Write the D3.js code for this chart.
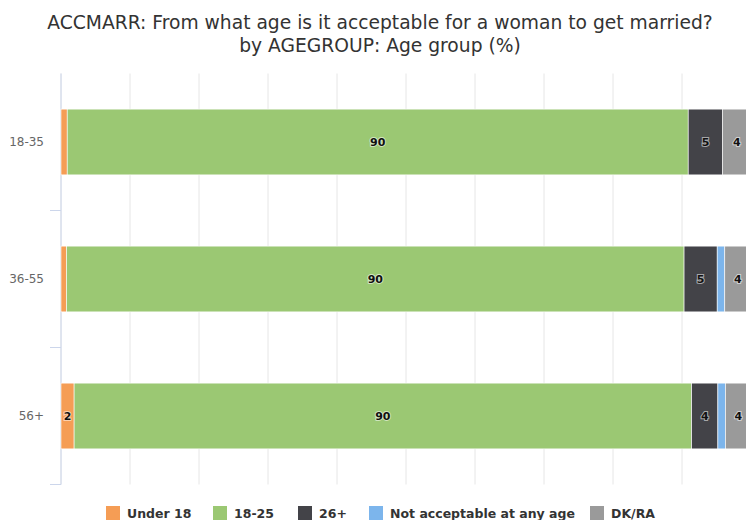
<!DOCTYPE html>
<html>
<head>
<meta charset="utf-8">
<script src="https://cdn.jsdelivr.net/npm/d3@7"></script>
<style>
  html, body { margin: 0; padding: 0; background: #fff; }
  svg { display: block; }
</style>
</head>
<body>
<svg id="chart" width="746" height="520"></svg>
<script>
// Survey answers by age group, percent of respondents
const titleLines = ["ACCMARR: From what age is it acceptable for a woman to get married?", "by AGEGROUP: Age group (%)"];
const categories = ["18-35", "36-55", "56+"];
const seriesNames = ["Under 18", "18-25", "26+", "Not acceptable at any age", "DK/RA"];
const seriesColors = ["#f59d55", "#9bc873", "#434348", "#7cb5ec", "#9a9a9a"];
const under18 = [0.9, 0.8, 1.9];
const age18to25 = [90.0, 89.5, 89.5];
const age26plus = [5.0, 4.8, 3.8];
const notAcceptable = [0.0, 1.1, 1.1];
const dkra = [4.1, 3.8, 3.7];
const xTicks = [0, 10, 20, 30, 40, 50, 60, 70, 80, 90, 100];

const seriesValues = [under18, age18to25, age26plus, notAcceptable, dkra];

const svg = d3.select("#chart");
const plot = { left: 61, top: 73.5, bottom: 484.5 };

const x = d3.scaleLinear().domain([0, 100]).range([plot.left, plot.left + 690]);
const y = d3.scaleBand().domain(categories).range([plot.top, plot.bottom])
  .paddingInner(0.52).paddingOuter(0.26);

// Title
const title = svg.append("text")
  .attr("x", 380).attr("y", 29)
  .attr("text-anchor", "middle")
  .style("font-family", "'DejaVu Sans', sans-serif")
  .style("font-size", "18.7px")
  .style("fill", "#333");
titleLines.forEach((t, i) => {
  title.append("tspan").attr("x", 380).attr("dy", i === 0 ? 0 : 23).text(t);
});

// Vertical grid lines
svg.append("g").selectAll("line").data(xTicks).join("line")
  .attr("x1", d => x(d)).attr("x2", d => x(d))
  .attr("y1", plot.top).attr("y2", plot.bottom)
  .attr("stroke", "#e6e6e6").attr("stroke-width", 1);

// Category axis
const yAxis = d3.axisLeft(y).tickSize(0).tickPadding(17);
const yg = svg.append("g").attr("transform", `translate(${plot.left},0)`).call(yAxis);
yg.select(".domain").remove();
yg.selectAll("text")
  .style("font-family", "'DejaVu Sans', sans-serif")
  .style("font-size", "12px")
  .style("fill", "#666");
svg.append("line")
  .attr("x1", plot.left).attr("x2", plot.left)
  .attr("y1", plot.top).attr("y2", plot.bottom)
  .attr("stroke", "#ccd6eb");
// Tick marks between categories
const boundaries = [
  y(categories[1]) - y.step() * y.paddingInner() / 2,
  y(categories[2]) - y.step() * y.paddingInner() / 2,
  plot.bottom
];
svg.append("g").selectAll("line").data(boundaries).join("line")
  .attr("x1", plot.left - 11).attr("x2", plot.left)
  .attr("y1", d => d).attr("y2", d => d)
  .attr("stroke", "#ccd6eb");

// Stacked bars
const stacked = categories.map((c, i) => {
  let acc = 0;
  return seriesValues.map((vals, s) => {
    const v = vals[i];
    const seg = { cat: c, s, v, x0: acc, x1: acc + v };
    acc += v;
    return seg;
  });
}).flat();

svg.append("g").selectAll("rect").data(stacked.filter(d => d.v > 0)).join("rect")
  .attr("x", d => x(d.x0))
  .attr("y", d => y(d.cat))
  .attr("width", d => x(d.x1) - x(d.x0))
  .attr("height", y.bandwidth())
  .attr("fill", d => seriesColors[d.s])
  .attr("stroke", "#fff").attr("stroke-width", 0.6);

// Value labels (shown for segments of 2% and above)
svg.append("g").selectAll("text")
  .data(stacked.filter(d => Math.round(d.v) >= 2)).join("text")
  .attr("x", d => (x(d.x0) + x(d.x1)) / 2)
  .attr("y", d => y(d.cat) + y.bandwidth() / 2 + 4)
  .attr("text-anchor", "middle")
  .style("font-family", "'DejaVu Sans', sans-serif")
  .style("font-size", "11px")
  .style("font-weight", "bold")
  .style("fill", "#111")
  .style("paint-order", "stroke")
  .style("stroke", "rgba(255,255,255,0.55)")
  .style("stroke-width", "2px")
  .text(d => Math.round(d.v));

// Legend
const legendX = [106, 213, 298, 369, 590];
const legend = svg.append("g").selectAll("g").data(seriesNames).join("g")
  .attr("transform", (d, i) => `translate(${legendX[i]},506)`);
legend.append("rect").attr("width", 14).attr("height", 14)
  .attr("fill", (d, i) => seriesColors[i]);
legend.append("text").attr("x", 21).attr("y", 12)
  .style("font-family", "'DejaVu Sans', sans-serif")
  .style("font-size", "12.5px")
  .style("font-weight", "bold")
  .style("fill", "#333")
  .text(d => d);
</script>
</body>
</html>
